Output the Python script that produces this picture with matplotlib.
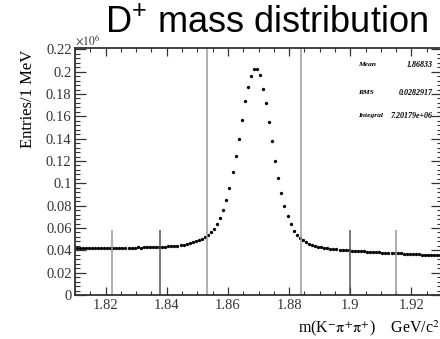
import numpy as np
import matplotlib
matplotlib.use('Agg')
import matplotlib.pyplot as plt
from matplotlib.ticker import MultipleLocator, FuncFormatter

#histogram: 1 MeV bins starting at 1.81 GeV
bin_lo = 1.81
bin_width = 0.001
#entries per bin
entries = [
    42300, 42100, 42400, 42000, 42200, 42300, 42100, 42400, 42200, 42300,
    42500, 42200, 42400, 42300, 42100, 42200, 42400, 42300, 42500, 42400,
    42600, 42500, 42700, 42600, 42800, 42700, 42900, 43000,
    43100, 43300, 43500, 43700, 44000, 44300, 44700, 45100, 45700, 46300,
    47100, 48000, 49000, 50300, 52000, 54000, 56500, 59500, 63500, 68700,
    75900, 85400, 95800, 109900, 124200, 140000, 156700, 173800, 186600, 196400,
    202400, 202400, 197000, 184500, 172000, 155000, 137700, 120000, 104500, 91100,
    79700, 71000, 63600, 57500, 54000, 51200, 49000, 47200, 45800, 44800,
    44000, 43300, 42800, 42300, 41900, 41500, 41200, 40900, 40600, 40400,
    40100, 39900, 39700, 39600, 39300, 39200, 39000, 38900, 38600, 38500,
    38400, 38100, 38000, 37900, 37700, 37600, 37400, 37300, 37200, 37000,
    36900, 36800, 36600, 36500, 36400, 36200, 36100, 36000, 35800, 35700,
    35600, 35400,
]

#signal window and sideband cut lines (GeV) and how high they go (x1e6)
cut_pos = [1.8222, 1.8378, 1.8532, 1.8840, 1.8998, 1.9150]
cut_top = [0.058, 0.058, 0.2212, 0.2212, 0.058, 0.058]
cut_col = ['#9a9a9a', '#555555', '#9a9a9a', '#9a9a9a', '#555555', '#9a9a9a']

stats_names = ['Mean', 'RMS', 'Integral']
stats_vals = ['1.86833', '0.0282917', '7.20179e+06']

plt.rcParams['mathtext.fontset'] = 'custom'
plt.rcParams['mathtext.rm'] = 'Liberation Sans'
plt.rcParams['font.family'] = 'Liberation Serif'

W, H = 440, 339
fig = plt.figure(figsize=(W/100, H/100), dpi=100)
fig.patch.set_facecolor('white')
#frame runs a little past the right edge, like the cropped original
ax = fig.add_axes([75/W, (H-295)/H, (442-75)/W, (295-48)/H])

y = np.array(entries)/1e6
x = bin_lo + bin_width*(np.arange(len(y)) + 0.5)
ax.plot(x, y, 'o', ms=2.4, color='black', mec='none')

for xp, top, c in zip(cut_pos, cut_top, cut_col):
    ax.vlines(xp, 0, top, colors=c, linewidth=1.1)

ax.set_xlim(1.81, 1.93)
ax.set_ylim(0, 0.2212)

ax.xaxis.set_major_locator(MultipleLocator(0.02))
ax.xaxis.set_minor_locator(MultipleLocator(0.005))
ax.yaxis.set_major_locator(MultipleLocator(0.02))
ax.yaxis.set_minor_locator(MultipleLocator(0.004))
ax.xaxis.set_major_formatter(FuncFormatter(lambda v, p: '%g' % round(v, 4)))
ax.yaxis.set_major_formatter(FuncFormatter(lambda v, p: '%g' % round(v, 4)))

ax.tick_params(axis='x', which='both', direction='in', top=True, bottom=True,
               labelsize=10.5, colors='#333333', pad=3)
ax.tick_params(axis='x', which='major', length=5.8, width=0.9)
ax.tick_params(axis='x', which='minor', length=3.0, width=0.8)
ax.tick_params(axis='y', which='both', direction='in', left=True, right=True,
               labelsize=10.5, colors='#333333', pad=2.5)
ax.tick_params(axis='y', which='major', length=8, width=0.9)
ax.tick_params(axis='y', which='minor', length=3.6, width=0.8)
for s in ax.spines.values():
    s.set_linewidth(1.3)
    s.set_color('#333333')

#stats box text (no border visible)
stat_y = [65, 92.7, 115.7]
for name, val, yp in zip(stats_names, stats_vals, stat_y):
    fig.text(358/W, 1-yp/H, name, fontsize=5.4, style='italic', weight='bold',
             ha='left', va='center')
    fig.text(433/W, 1-yp/H, val, fontsize=5.8, style='italic', weight='bold',
             ha='right', va='center')

fig.text(105/W, 1-33/H, r'D$^{+}$ mass distribution', fontsize=26,
         family='Liberation Sans', math_fontfamily='custom',
         ha='left', va='baseline')
fig.text(75/W, 1-45/H, r'$\times 10^{6}$', fontsize=8.5, color='#333333',
         math_fontfamily='stix', ha='left', va='baseline')
fig.text(28/W, 1-50/H, 'Entries/1 MeV', rotation=90, fontsize=12,
         ha='center', va='top')
fig.text(298/W, 1-328/H, r'm(K$^{-}\mathrm{\pi}^{+}\mathrm{\pi}^{+}$)    GeV/c$^{2}$',
         fontsize=11.5, math_fontfamily='stix', ha='left', va='center')

fig.savefig('out.png', dpi=100)
